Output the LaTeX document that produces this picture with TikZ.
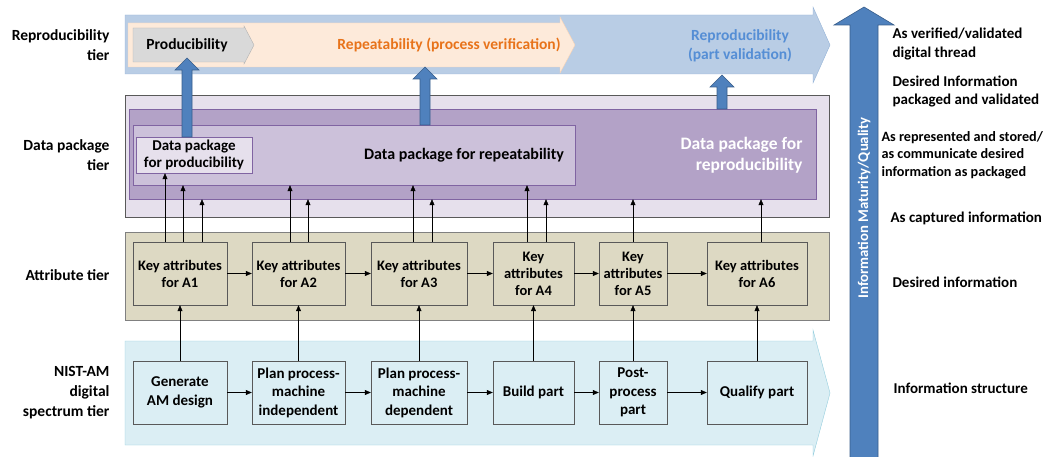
\documentclass[tikz,border=0pt]{standalone}
\usepackage{fontspec}
\setmainfont{Carlito}
\usetikzlibrary{positioning,arrows.meta}
\definecolor{tierblue}{HTML}{B9CDE5}
\definecolor{tierblueedge}{HTML}{95B3D7}
\definecolor{repeatfill}{HTML}{FDEADA}
\definecolor{repeatedge}{HTML}{FAD3B4}
\definecolor{repeattext}{HTML}{E8731A}
\definecolor{reprotext}{HTML}{558ED5}
\definecolor{pkgout}{HTML}{E6E0EC}
\definecolor{pkgmid}{HTML}{B3A2C7}
\definecolor{pkgin}{HTML}{CCC1DA}
\definecolor{pkgedge}{HTML}{8064A2}
\definecolor{attrfill}{HTML}{DDD9C3}
\definecolor{nistfill}{HTML}{DBEEF4}
\definecolor{nistedge}{HTML}{93CDDD}
\definecolor{fatblue}{HTML}{4F81BD}
\definecolor{fatedge}{HTML}{385D8A}

\begin{document}
\begin{tikzpicture}[x=1pt,y=-1pt,font=\bfseries\fontsize{14.5}{17}\selectfont,
    box/.style={draw=black!65, inner sep=0pt, minimum height=63, align=center},
    tierlabel/.style={font=\bfseries\fontsize{15.5}{20}\selectfont, align=right, anchor=east},
    sidelabel/.style={font=\bfseries\fontsize{15}{18}\selectfont, align=left, anchor=west},
    fatarrow/.style={fill=fatblue, draw=fatedge, line width=0.6pt},
    arr/.style={-{Triangle[length=6pt,width=5pt]}, line width=0.5pt}]
  \useasboundingbox (0,0) rectangle (1046,457);

  % Reproducibility tier: three nested chevrons
  \draw[fill=tierblue, draw=tierblueedge] (125,15) -- (813,15) -- (813,7) -- (830,45)
      -- (813,83) -- (813,74) -- (125,74) -- cycle;
  \draw[fill=repeatfill, draw=repeatedge] (128,23) -- (560,23) -- (560,17) -- (575,45)
      -- (560,73) -- (560,67) -- (128,67) -- cycle;
  \draw[fill=black!15, draw=black!30] (133,28) -- (244,28) -- (244,26) -- (254,45)
      -- (244,64) -- (244,62) -- (133,62) -- cycle;
  \node[font=\bfseries\fontsize{15.5}{18}\selectfont] (producibility) at (187,45) {Producibility};
  \node[repeattext, font=\bfseries\fontsize{15.5}{18}\selectfont] (repeatability) at (449,45)
      {Repeatability (process verification)};
  \node[reprotext, align=center, font=\bfseries\fontsize{15.5}{19}\selectfont] (reproducibility)
      at (740,46) {Reproducibility\\(part validation)};

  % Data package tier
  \node[draw=black!65, fill=pkgout, minimum width=704, minimum height=122] (dptier) at (477,156) {};
  \node[draw=pkgedge, fill=pkgmid, minimum width=687, minimum height=90] (dpreprod) at (472.5,154) {};
  \node[draw=pkgedge, fill=pkgin, minimum width=442, minimum height=60] (dprepeat) at (354,155) {};
  \node[draw=pkgedge, fill=pkgout, minimum width=116, minimum height=36, inner sep=0pt,
        align=center, font=\bfseries\fontsize{15}{17}\selectfont] (dpprod) at (194,155)
        {Data package\\for producibility};
  \node[font=\bfseries\fontsize{16}{18}\selectfont] (lblrepeat) at (464,155) {Data package for repeatability};
  \node[white, align=right, anchor=east, font=\bfseries\fontsize{17.5}{21}\selectfont]
        (lblreprod) at (806,155) {Data package for\\reproducibility};

  % fat arrows up to the reproducibility tier
  \foreach \x/\yb/\yt in {187/137/58, 425/125/67, 722/109/75}
    \draw[fatarrow] (\x-5,\yb) -- (\x-5,\yt+12) -- (\x-12,\yt+12) -- (\x,\yt)
        -- (\x+12,\yt+12) -- (\x+5,\yt+12) -- (\x+5,\yb) -- cycle;

  % Attribute tier
  \node[draw=black!50, fill=attrfill, minimum width=704, minimum height=88] (attrtier) at (477,276) {};
  \foreach \n/\xl/\xr/\txt in {a1/133/227/{Key attributes\\for A1}, a2/252/345/{Key attributes\\for A2},
      a3/371/467/{Key attributes\\for A3}, a4/493/574/{Key\\attributes\\for A4},
      a5/599/667/{Key\\attributes\\for A5}, a6/707/807/{Key attributes\\for A6}}
    \node[box, fill=attrfill, minimum width=\xr-\xl] (\n) at ({(\xl+\xr)/2},273.5) {\txt};

  % NIST-AM digital spectrum tier
  \draw[fill=nistfill, draw=nistedge] (125,341) -- (813,341) -- (813,330) -- (830,393)
      -- (813,456) -- (813,445) -- (125,445) -- cycle;
  \foreach \n/\xl/\xr/\txt in {p1/133/227/{Generate\\AM design}, p2/252/345/{Plan process-\\machine\\independent},
      p3/371/467/{Plan process-\\machine\\dependent}, p4/493/574/{Build part},
      p5/599/667/{Post-\\process\\part}, p6/707/807/{Qualify part}}
    \node[box, fill=nistfill, minimum width=\xr-\xl, font=\bfseries\fontsize{15}{18.5}\selectfont]
        (\n) at ({(\xl+\xr)/2},392.5) {\txt};

  % flows along the rows and up between them
  \foreach \a/\b in {a1/a2, a2/a3, a3/a4, a4/a5, a5/a6, p1/p2, p2/p3, p3/p4, p4/p5, p5/p6}
    \draw[arr] (\a) -- (\b);
  \foreach \i in {1,...,6}
    \draw[arr] (p\i) -- (a\i);
  \foreach \a/\dx/\t in {a1/-15/dpprod, a1/3/dprepeat, a1/22/dpreprod, a2/-8.5/dprepeat,
      a2/9.5/dpreprod, a3/-6/dprepeat, a3/13/dpreprod, a4/-6.5/dprepeat, a4/12.5/dpreprod,
      a5/0/dpreprod, a6/4/dpreprod}
    \draw[arr] ([xshift=\dx]\a.north) -- ([xshift=\dx]\a.north |- \t.south);

  % Information maturity arrow
  \draw[fatarrow] (850,458) -- (850,25) -- (834,25) -- (864,7) -- (894,25) -- (878,25)
      -- (878,458) -- cycle;
  \node[white, rotate=90, font=\bfseries\fontsize{14.7}{16}\selectfont] (maturity) at (864,208)
      {Information Maturity/Quality};

  % tier names
  \node[tierlabel] (lbltop) at (113,45) {Reproducibility\\tier};
  \node[tierlabel] (lbldp) at (113,155) {Data package\\tier};
  \node[tierlabel] (lblattr) at (113,275) {Attribute tier};
  \node[tierlabel] (lblnist) at (113,393) {NIST-AM\\digital\\spectrum tier};

  % information states
  \node[sidelabel] (st1) at (889,44) {As verified/validated\\digital thread};
  \node[sidelabel] (st2) at (889,91) {Desired Information\\packaged and validated};
  \node[sidelabel, font=\bfseries\fontsize{14.2}{17.5}\selectfont] (st3) at (878,155)
      {As represented and stored/\\as communicate desired\\information as packaged};
  \node[sidelabel] (st4) at (887,218) {As captured information};
  \node[sidelabel] (st5) at (889,282) {Desired information};
  \node[sidelabel] (st6) at (890,388) {Information structure};
\end{tikzpicture}
\end{document}
